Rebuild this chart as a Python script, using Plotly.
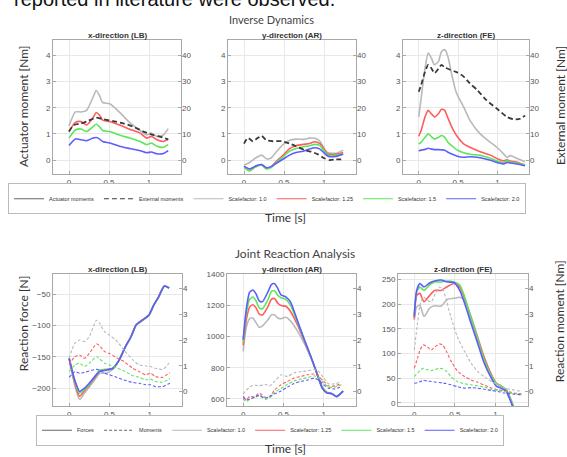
import plotly.graph_objects as go

# ---------------- DATA ----------------
panel_titles = ["x-direction (LB)", "y-direction (AR)", "z-direction (FE)"]
sf_names = ["Scalefactor: 1.0", "Scalefactor: 1.25", "Scalefactor: 1.5", "Scalefactor: 2.0"]
x_ticks = [0, 0.5, 1]
x_tick_labels = ["0", "0.5", "1"]

# Inverse Dynamics, x-direction (LB)
id_x_t = [0, 0.08, 0.15, 0.22, 0.30, 0.34, 0.38, 0.42, 0.51, 0.63, 0.76, 0.89, 0.97, 1.03, 1.10, 1.18, 1.24]
id_x_sf10 = [1.30, 1.84, 1.84, 1.90, 2.40, 2.66, 2.47, 2.20, 2.15, 1.83, 1.43, 1.13, 0.96, 1.03, 0.90, 0.96, 1.20]
id_x_sf125 = [1.09, 1.44, 1.47, 1.34, 1.62, 1.82, 1.72, 1.53, 1.47, 1.34, 1.18, 1.03, 0.84, 0.90, 0.78, 0.71, 0.81]
id_x_sf15 = [0.84, 1.15, 1.19, 1.09, 1.28, 1.37, 1.28, 1.13, 1.09, 0.96, 0.84, 0.71, 0.59, 0.65, 0.53, 0.49, 0.59]
id_x_sf20 = [0.56, 0.81, 0.78, 0.74, 0.84, 0.86, 0.81, 0.71, 0.65, 0.53, 0.44, 0.36, 0.28, 0.31, 0.24, 0.25, 0.36]
id_x_ext_t = [0, 0.06, 0.15, 0.23, 0.34, 0.42, 0.55, 0.68, 0.80, 0.93, 1.05, 1.18, 1.24]
id_x_ext = [10.9, 13.4, 14.0, 14.9, 16.2, 15.7, 14.9, 14.0, 12.8, 10.9, 9.6, 8.6, 7.8]

# Inverse Dynamics, y-direction (AR)
id_y_t = [0, 0.07, 0.15, 0.22, 0.28, 0.34, 0.40, 0.49, 0.57, 0.65, 0.74, 0.82, 0.88, 0.95, 1.01, 1.05, 1.15, 1.24]
id_y_sf10 = [-0.19, -0.09, 0.09, 0.19, 0.05, 0.08, 0.30, 0.60, 0.76, 0.80, 0.79, 0.84, 0.84, 0.72, 0.40, 0.28, 0.26, 0.38]
id_y_sf125 = [-0.25, -0.34, -0.25, -0.17, -0.32, -0.25, -0.06, 0.19, 0.44, 0.55, 0.60, 0.63, 0.70, 0.63, 0.38, 0.23, 0.22, 0.29]
id_y_sf15 = [-0.29, -0.42, -0.25, -0.19, -0.34, -0.29, -0.10, 0.13, 0.34, 0.44, 0.51, 0.55, 0.60, 0.55, 0.32, 0.19, 0.18, 0.24]
id_y_sf20 = [-0.23, -0.34, -0.22, -0.17, -0.29, -0.25, -0.13, 0.04, 0.19, 0.29, 0.34, 0.42, 0.47, 0.42, 0.25, 0.15, 0.14, 0.22]
id_y_ext_t = [0, 0.05, 0.11, 0.175, 0.22, 0.28, 0.36, 0.47, 0.57, 0.65, 0.76, 0.84, 0.925, 0.99, 1.07, 1.15, 1.24]
id_y_ext = [6.3, 8.5, 7.2, 8.5, 9.3, 7.6, 7.2, 7.2, 6.3, 5.3, 3.8, 3.2, 2.2, 0.9, 0.0, 0.25, 0.25]

# Inverse Dynamics, z-direction (FE)
id_z_t = [0, 0.03, 0.08, 0.12, 0.16, 0.20, 0.25, 0.29, 0.33, 0.37, 0.42, 0.48, 0.57, 0.65, 0.78, 0.91, 0.99, 1.08, 1.12, 1.16, 1.25, 1.35]
id_z_sf10 = [1.65, 2.35, 3.51, 4.09, 3.90, 3.64, 3.77, 4.15, 4.22, 3.96, 3.25, 2.55, 2.03, 1.52, 1.00, 0.68, 0.49, 0.23, 0.10, 0.17, 0.06, -0.06]
id_z_sf125 = [0.91, 1.13, 1.65, 1.90, 1.77, 1.65, 1.77, 1.94, 1.90, 1.61, 1.26, 0.94, 0.62, 0.49, 0.32, 0.19, 0.06, -0.03, 0.01, -0.04, -0.08, -0.19]
id_z_sf15 = [0.62, 0.68, 0.87, 1.00, 0.90, 0.81, 0.87, 0.94, 0.87, 0.68, 0.55, 0.40, 0.28, 0.22, 0.18, 0.07, -0.03, -0.09, -0.03, -0.07, -0.11, -0.19]
id_z_sf20 = [0.36, 0.38, 0.41, 0.45, 0.42, 0.40, 0.40, 0.39, 0.38, 0.30, 0.23, 0.16, 0.11, 0.13, 0.09, -0.01, -0.09, -0.15, -0.09, -0.11, -0.15, -0.22]
id_z_ext_t = [0, 0.03, 0.08, 0.12, 0.16, 0.20, 0.25, 0.29, 0.33, 0.40, 0.48, 0.57, 0.65, 0.74, 0.86, 0.99, 1.12, 1.20, 1.29, 1.35]
id_z_ext = [26.1, 28.7, 33.8, 36.4, 35.1, 33.2, 34.9, 36.4, 35.4, 34.5, 33.6, 31.9, 29.3, 26.8, 22.9, 19.7, 16.5, 15.6, 15.8, 17.1]

# Joint Reaction Analysis, x-direction (LB)
jr_x_ft = [0, 0.07, 0.13, 0.19, 0.25, 0.32, 0.38, 0.46, 0.54, 0.62, 0.70, 0.77, 0.83, 0.91, 0.99, 1.05, 1.11, 1.18, 1.24]
jr_x_f10 = [-152, -195, -218, -208, -198, -186, -176, -176, -170, -156, -134, -118, -100, -92, -84, -68, -55, -36, -40]
jr_x_f125 = [-152, -192, -213, -204, -195, -183, -172, -170, -169, -155, -133, -117, -99, -91, -83, -67, -54, -37, -40]
jr_x_f15 = [-152, -189, -208, -202, -194, -181, -171, -170, -169, -155, -133, -117, -99, -91, -83, -67, -54, -37, -40]
jr_x_f20 = [-152, -187, -205, -200, -192, -181, -173, -171, -168, -155, -133, -117, -99, -91, -83, -67, -54, -37, -40]
jr_x_mt = [0, 0.07, 0.13, 0.19, 0.25, 0.34, 0.38, 0.44, 0.50, 0.58, 0.68, 0.79, 0.87, 0.95, 1.01, 1.07, 1.16, 1.22, 1.25]
jr_x_m10 = [1.29, 1.87, 2.00, 1.94, 2.13, 2.77, 2.65, 2.32, 2.19, 2.00, 1.61, 1.23, 1.03, 0.99, 0.97, 0.90, 0.86, 1.03, 1.16]
jr_x_m125 = [1.03, 1.35, 1.42, 1.29, 1.48, 1.85, 1.77, 1.55, 1.48, 1.33, 1.16, 0.90, 0.77, 0.65, 0.71, 0.58, 0.55, 0.67, 0.72]
jr_x_m15 = [0.77, 1.03, 1.10, 0.97, 1.10, 1.35, 1.26, 1.10, 1.03, 0.93, 0.80, 0.61, 0.55, 0.45, 0.48, 0.39, 0.36, 0.45, 0.50]
jr_x_m20 = [0.55, 0.77, 0.71, 0.74, 0.80, 0.86, 0.84, 0.71, 0.65, 0.56, 0.45, 0.35, 0.32, 0.26, 0.26, 0.19, 0.19, 0.28, 0.32]

# Joint Reaction Analysis, y-direction (AR)
jr_y_ft = [0, 0.04, 0.08, 0.12, 0.16, 0.20, 0.24, 0.31, 0.35, 0.39, 0.43, 0.47, 0.53, 0.59, 0.67, 0.76, 0.84, 0.92, 0.98, 1.04, 1.10, 1.16, 1.24]
jr_y_f10 = [905, 1060, 1115, 1120, 1090, 1060, 1070, 1110, 1140, 1140, 1120, 1115, 1125, 1100, 1040, 955, 865, 765, 680, 643, 635, 617, 650]
jr_y_f125 = [945, 1110, 1190, 1205, 1185, 1145, 1140, 1195, 1240, 1245, 1215, 1200, 1195, 1160, 1080, 972, 870, 760, 675, 641, 634, 616, 650]
jr_y_f15 = [965, 1150, 1240, 1255, 1230, 1185, 1180, 1240, 1290, 1295, 1265, 1250, 1240, 1200, 1100, 978, 872, 758, 672, 640, 634, 615, 650]
jr_y_f20 = [980, 1180, 1285, 1300, 1275, 1230, 1225, 1290, 1335, 1340, 1310, 1268, 1255, 1220, 1108, 980, 873, 756, 670, 638, 634, 615, 650]
jr_y_mt = [0, 0.04, 0.08, 0.14, 0.20, 0.27, 0.33, 0.39, 0.47, 0.55, 0.63, 0.71, 0.80, 0.88, 0.94, 1.00, 1.06, 1.14, 1.22]
jr_y_m10 = [-0.09, 0.05, 0.18, 0.25, 0.22, 0.28, 0.22, 0.39, 0.65, 0.58, 0.72, 0.77, 0.80, 0.86, 0.77, 0.52, 0.30, 0.30, 0.39]
jr_y_m125 = [-0.26, -0.32, -0.19, -0.21, -0.06, -0.22, -0.19, 0.06, 0.26, 0.39, 0.52, 0.58, 0.65, 0.68, 0.58, 0.39, 0.22, 0.22, 0.32]
jr_y_m15 = [-0.29, -0.39, -0.30, -0.24, -0.16, -0.30, -0.25, -0.04, 0.12, 0.28, 0.41, 0.48, 0.54, 0.61, 0.52, 0.32, 0.17, 0.17, 0.26]
jr_y_m20 = [-0.19, -0.32, -0.30, -0.22, -0.14, -0.26, -0.19, -0.10, 0.02, 0.17, 0.31, 0.39, 0.45, 0.52, 0.43, 0.26, 0.13, 0.10, 0.19]

# Joint Reaction Analysis, z-direction (FE)
jr_z_ft = [0, 0.03, 0.07, 0.12, 0.19, 0.25, 0.33, 0.41, 0.49, 0.56, 0.62, 0.70, 0.78, 0.86, 0.95, 1.01, 1.07, 1.13, 1.17, 1.21, 1.25]
jr_z_f10 = [168, 195, 198, 175, 192, 197, 196, 210, 212, 214, 208, 175, 134, 94, 57, 40, 34, 28, 15, -1, -20]
jr_z_f125 = [171, 218, 222, 205, 218, 228, 228, 236, 242, 235, 212, 171, 131, 91, 57, 40, 34, 27, 13, -3, -22]
jr_z_f15 = [178, 225, 235, 228, 239, 245, 245, 247, 245, 239, 215, 171, 128, 87, 54, 40, 34, 27, 13, -3, -22]
jr_z_f20 = [175, 228, 242, 235, 243, 247, 249, 245, 244, 228, 202, 161, 121, 81, 50, 34, 30, 24, 10, -7, -25]
jr_z_mt = [0, 0.04, 0.07, 0.11, 0.16, 0.21, 0.25, 0.31, 0.35, 0.39, 0.45, 0.53, 0.62, 0.70, 0.78, 0.86, 0.95, 1.03, 1.11, 1.23, 1.32]
jr_z_m10 = [1.61, 2.65, 3.35, 3.68, 3.55, 3.48, 3.74, 4.06, 4.00, 3.61, 2.90, 2.13, 1.55, 1.10, 0.77, 0.58, 0.39, 0.26, 0.13, 0.06, 0.00]
jr_z_m125 = [0.90, 1.29, 1.60, 1.81, 1.74, 1.61, 1.72, 1.85, 1.80, 1.60, 1.20, 0.80, 0.58, 0.45, 0.36, 0.25, 0.14, 0.06, 0.03, -0.06, -0.09]
jr_z_m15 = [0.58, 0.71, 0.82, 0.90, 0.85, 0.81, 0.85, 0.90, 0.88, 0.80, 0.58, 0.39, 0.30, 0.26, 0.22, 0.17, 0.09, 0.04, 0.00, -0.08, -0.13]
jr_z_m20 = [0.32, 0.34, 0.38, 0.43, 0.41, 0.39, 0.37, 0.35, 0.33, 0.31, 0.26, 0.19, 0.13, 0.15, 0.13, 0.09, 0.04, 0.00, -0.06, -0.10, -0.13]

# axis ticks / ranges
id_left_ticks = [0, 1, 2, 3, 4]
id_right_ticks = [0, 10, 20, 30, 40]
jr_right_ticks = [0, 1, 2, 3, 4]
jr_x_left_ticks = [-200, -150, -100, -50]
jr_y_left_ticks = [600, 800, 1000, 1200, 1400]
jr_z_left_ticks = [0, 50, 100, 150, 200, 250]

# ---------------- STYLE ----------------
W, H = 567, 457
SF_COLORS = ["#b9b9b9", "#ff5c5c", "#5ce65c", "#5c5cff"]
TICKFONT = dict(family="Liberation Sans, Arial", size=8, color="#555")
LABELFONT = dict(family="Lato, Open Sans, sans-serif", size=12, color="#333")


def px_x(p):
    return p / W


def px_y(p):
    return 1 - p / H


# panel boxes in pixels (left, right, top, bottom)
boxes = [
    (53, 181, 37, 173), (228, 356, 37, 173), (403, 529, 37, 173),
    (53, 182, 273, 407), (227, 356, 273, 407), (398, 528, 273, 407),
]

fig = go.Figure()


def add_line(k, t, v, color, right, width, dash="solid"):
    yi = 2 * k if right else 2 * k - 1
    fig.add_trace(go.Scatter(
        x=t, y=v, mode="lines", xaxis="x" if k == 1 else f"x{k}", yaxis="y" if yi == 1 else f"y{yi}",
        line=dict(color=color, width=width, dash=dash, shape="spline", smoothing=0.6),
        showlegend=False, hoverinfo="skip"))


id_panels = [
    (id_x_t, [id_x_sf10, id_x_sf125, id_x_sf15, id_x_sf20], id_x_ext_t, id_x_ext),
    (id_y_t, [id_y_sf10, id_y_sf125, id_y_sf15, id_y_sf20], id_y_ext_t, id_y_ext),
    (id_z_t, [id_z_sf10, id_z_sf125, id_z_sf15, id_z_sf20], id_z_ext_t, id_z_ext),
]
for i, (t, sfs, et, ev) in enumerate(id_panels):
    k = i + 1
    for c, s in zip(SF_COLORS, sfs):
        add_line(k, t, s, c, False, 1.6)
    add_line(k, et, ev, "#3a3a3a", True, 1.8, dash="5px,3px")

jr_panels = [
    (jr_x_ft, [jr_x_f10, jr_x_f125, jr_x_f15, jr_x_f20], jr_x_mt, [jr_x_m10, jr_x_m125, jr_x_m15, jr_x_m20]),
    (jr_y_ft, [jr_y_f10, jr_y_f125, jr_y_f15, jr_y_f20], jr_y_mt, [jr_y_m10, jr_y_m125, jr_y_m15, jr_y_m20]),
    (jr_z_ft, [jr_z_f10, jr_z_f125, jr_z_f15, jr_z_f20], jr_z_mt, [jr_z_m10, jr_z_m125, jr_z_m15, jr_z_m20]),
]
for i, (ft, fs, mt, ms) in enumerate(jr_panels):
    k = i + 4
    for c, m in zip(SF_COLORS, ms):
        add_line(k, mt, m, c, True, 1.1, dash="3px,2px")
    for c, f in zip(SF_COLORS, fs):
        add_line(k, ft, f, c, False, 1.6)

# legend entries (native plotly legends)
leg1 = [("Actuator moments", "#666666", "solid"), ("External moments", "#3a3a3a", "5px,3px")] + \
       [(n, c, "solid") for n, c in zip(sf_names, SF_COLORS)]
leg2 = [("Forces", "#666666", "solid"), ("Moments", "#666666", "3px,2px")] + \
       [(n, c, "solid") for n, c in zip(sf_names, SF_COLORS)]
for n, c, d in leg1:
    fig.add_trace(go.Scatter(x=[None], y=[None], mode="lines", name=n, legend="legend",
                             line=dict(color=c, width=1.2, dash=d), xaxis="x", yaxis="y"))
for n, c, d in leg2:
    fig.add_trace(go.Scatter(x=[None], y=[None], mode="lines", name=n, legend="legend2",
                             line=dict(color=c, width=1.2, dash=d), xaxis="x4", yaxis="y7"))

LEGFONT = dict(family="Liberation Sans, Arial", size=5.5, color="#333")
layout = dict(
    width=W, height=H, margin=dict(l=0, r=0, t=0, b=0),
    paper_bgcolor="white", plot_bgcolor="white",
    font=dict(family="Liberation Sans, Arial", size=8, color="#444"),
    legend=dict(orientation="h", x=px_x(267), y=px_y(197.5), xanchor="center", yanchor="middle",
                font=LEGFONT, bordercolor="#bbbbbb", borderwidth=1,
                itemwidth=30, tracegroupgap=0, bgcolor="white"),
    legend2=dict(orientation="h", x=px_x(270), y=px_y(431), xanchor="center", yanchor="middle",
                 font=LEGFONT, bordercolor="#bbbbbb", borderwidth=1,
                 itemwidth=30, tracegroupgap=0, bgcolor="white"),
)

left_specs = [
    ([-0.55, 4.6], id_left_ticks), ([-0.55, 4.6], id_left_ticks), ([-0.55, 4.6], id_left_ticks),
    ([-229, -17], jr_x_left_ticks), ([552, 1405], jr_y_left_ticks), ([-7, 262], jr_z_left_ticks),
]
right_specs = [
    ([-5.5, 46], id_right_ticks), ([-5.5, 46], id_right_ticks), ([-5.5, 46], id_right_ticks),
    ([-0.58, 4.58], jr_right_ticks), ([-0.58, 4.58], jr_right_ticks), ([-0.58, 4.58], jr_right_ticks),
]
AX = dict(showline=True, linecolor="#a8a8a8", linewidth=1, mirror=True, ticks="inside",
          ticklen=3, tickcolor="#a8a8a8", tickfont=TICKFONT, zeroline=False)

for i, (l, r, tp, bt) in enumerate(boxes):
    k = i + 1
    xs = "" if k == 1 else str(k)
    yl = 2 * k - 1
    yr = 2 * k
    yls = "" if yl == 1 else str(yl)
    layout[f"xaxis{xs}"] = dict(domain=[px_x(l), px_x(r)], anchor=f"y{yls}", range=[-0.2, 1.4],
                                tickvals=x_ticks, ticktext=x_tick_labels, showgrid=True,
                                gridcolor="#e8e8e8", **AX)
    layout[f"yaxis{yls}"] = dict(domain=[px_y(bt), px_y(tp)], anchor=f"x{xs}", range=left_specs[i][0],
                                 tickvals=left_specs[i][1], showgrid=True, gridcolor="#e8e8e8", **AX)
    layout[f"yaxis{yr}"] = dict(domain=[px_y(bt), px_y(tp)], anchor=f"x{xs}", overlaying=f"y{yls}",
                                side="right", range=right_specs[i][0], tickvals=right_specs[i][1],
                                showgrid=False, showline=False, ticks="inside", ticklen=3,
                                tickcolor="#a8a8a8", tickfont=TICKFONT, zeroline=False)

fig.update_layout(**layout)

ann = []


def label(text, xp, yp, font, angle=0, xa="center", ya="middle"):
    ann.append(dict(text=text, x=px_x(xp), y=px_y(yp), xref="paper", yref="paper",
                    showarrow=False, textangle=angle, xanchor=xa, yanchor=ya, font=font))


# panel titles
for i, (l, r, tp, bt) in enumerate(boxes):
    label(f"<b>{panel_titles[i % 3]}</b>", (l + r) / 2, tp - 4,
          dict(family="Liberation Sans, Arial", size=8, color="#333"))
# section titles
label("Inverse Dynamics", 271, 17, dict(family="Lato, sans-serif", size=11, color="#444"))
label("Joint Reaction Analysis", 295, 253, dict(family="Lato, sans-serif", size=12, color="#444"))
# time labels
label("Time [s]", 285, 216, LABELFONT)
label("Time [s]", 285, 449, LABELFONT)
# axis labels
label("Actuator moment [Nm]", 23, 104, LABELFONT, angle=-90)
label("Reaction force [N]", 23, 323, LABELFONT, angle=-90)
label("External moment [Nm]", 560, 104, LABELFONT, angle=-90)
label("Reaction moment [Nm]", 559, 321, LABELFONT, angle=-90)
# cut-off caption text at the very top
label("reported in literature were observed.", 12, 9, dict(family="Liberation Sans, Arial", size=20, color="#111"),
      xa="left", ya="bottom")
fig.update_layout(annotations=ann)

fig.write_html("out.html", config={"displayModeBar": False},
               post_script="document.body.style.margin='0';document.body.style.overflow='hidden';")
